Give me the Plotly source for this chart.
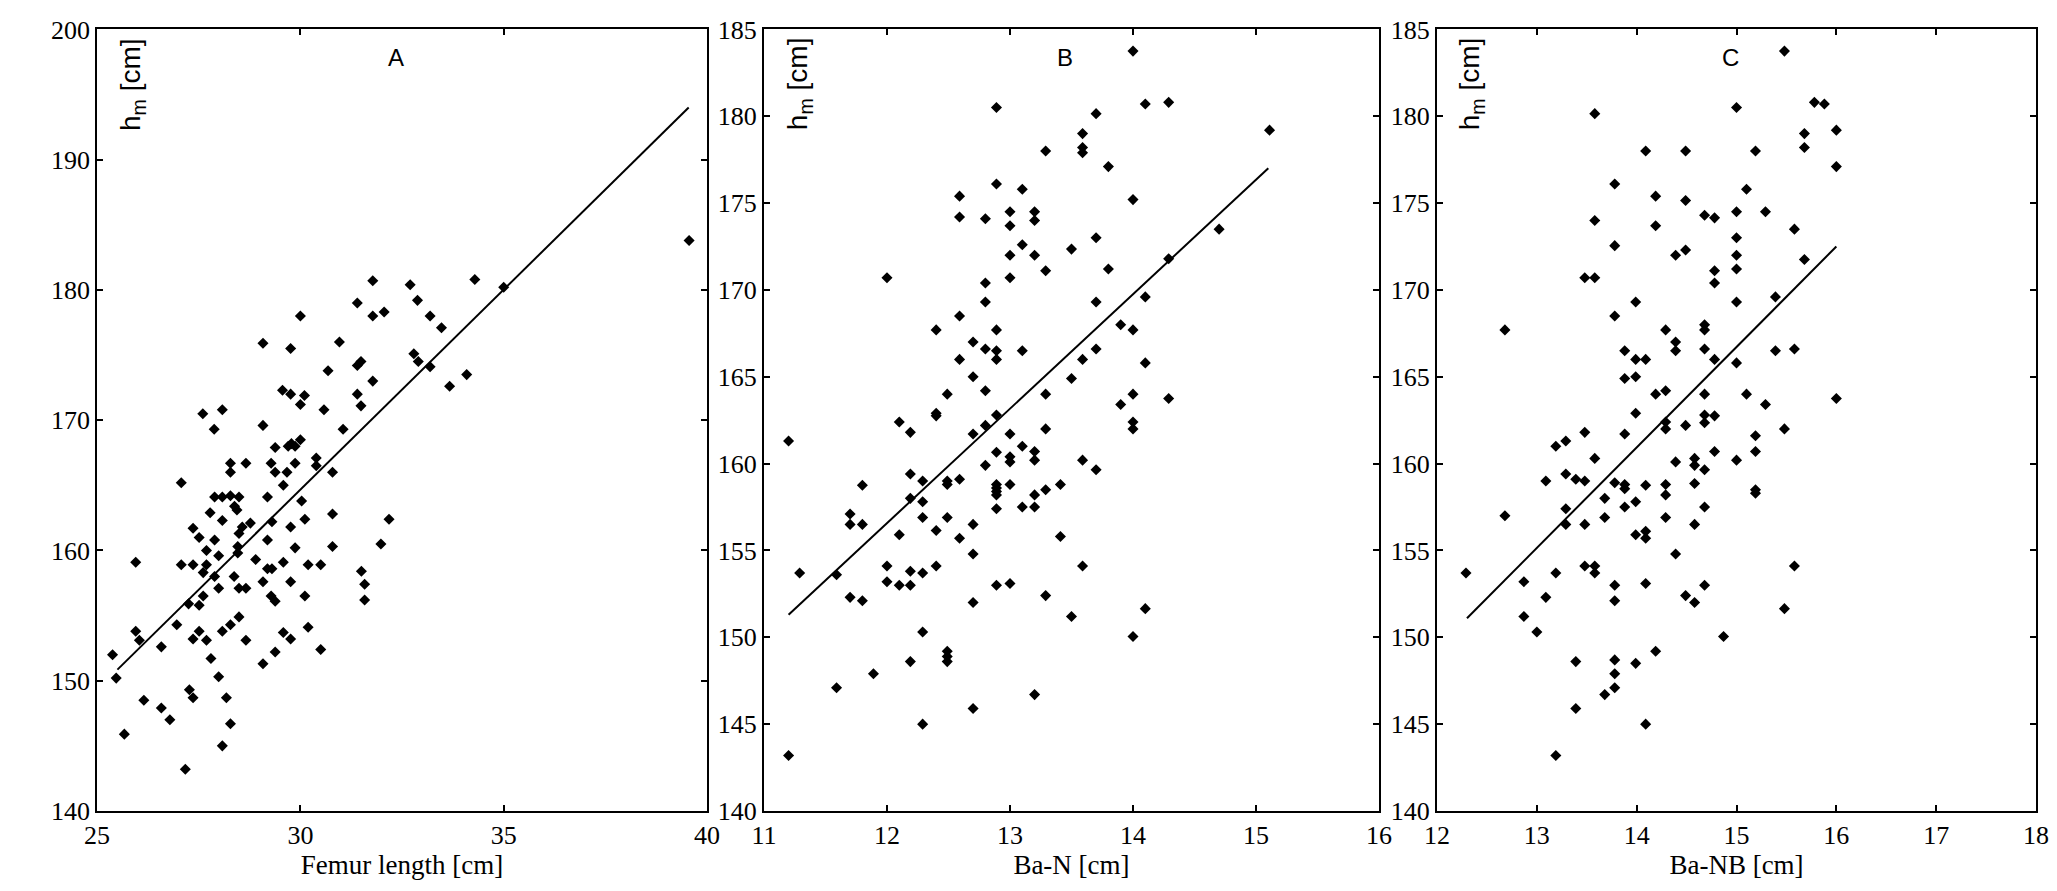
import plotly.graph_objects as go

# --- data (x, h_m) ---
femur_points = [
    (27.60, 170.5), (27.88, 169.3), (28.08, 170.8), (29.08, 175.9), (29.08, 169.6),
    (29.56, 172.3), (29.76, 175.5), (29.76, 172.0), (30.00, 178.0), (30.00, 171.2),
    (30.10, 171.9), (30.00, 168.5), (30.58, 170.8), (30.68, 173.8), (30.96, 176.0),
    (31.05, 169.3), (31.40, 179.0), (31.40, 174.2), (31.49, 174.5), (31.40, 172.0),
    (31.49, 171.1), (31.78, 180.7), (31.78, 178.0), (32.06, 178.3), (31.78, 173.0),
    (32.70, 180.4), (32.88, 179.2), (32.79, 175.1), (32.90, 174.5), (33.19, 178.0),
    (33.47, 177.1), (33.19, 174.1), (33.67, 172.6), (34.09, 173.5), (34.29, 180.8),
    (35.00, 180.2), (39.56, 183.8),
    (29.38, 167.9), (29.70, 168.0), (29.78, 168.2), (29.87, 168.0),
    (28.28, 166.7), (28.28, 166.0), (28.66, 166.7), (29.28, 166.7), (29.38, 166.0),
    (29.67, 166.0), (29.87, 166.7), (30.39, 167.1), (30.39, 166.5), (30.79, 166.0),
    (27.07, 165.2), (29.58, 165.0),
    (27.89, 164.1), (28.08, 164.1), (28.28, 164.2), (28.49, 164.1), (29.19, 164.1),
    (30.03, 163.8), (28.38, 163.4), (28.44, 163.1), (27.78, 162.9), (30.11, 162.4),
    (30.79, 162.8), (32.18, 162.4), (28.08, 162.3), (28.77, 162.1), (28.57, 161.8),
    (28.49, 161.3), (29.30, 162.2), (29.76, 161.8), (27.36, 161.7), (27.51, 161.0),
    (27.89, 160.8), (29.19, 160.8), (27.69, 160.0), (28.46, 160.3), (28.46, 159.8),
    (29.87, 160.2), (30.79, 160.3), (31.98, 160.5),
    (25.95, 159.1), (27.07, 158.9), (27.36, 158.9), (27.69, 158.9), (27.99, 159.6),
    (28.90, 159.3), (29.19, 158.6), (29.30, 158.6), (29.58, 159.1), (30.19, 158.9),
    (30.50, 158.9), (27.61, 158.3), (27.89, 158.0), (28.37, 158.0), (27.99, 157.1),
    (28.49, 157.1), (28.66, 157.1), (29.08, 157.6), (29.76, 157.6), (31.50, 158.4),
    (31.58, 157.4), (31.58, 156.2), (27.61, 156.5), (27.25, 155.9), (27.51, 155.8),
    (29.28, 156.5), (29.38, 156.1), (30.11, 156.5),
    (26.96, 154.3), (25.95, 153.8), (26.04, 153.1), (26.58, 152.6), (27.36, 153.2),
    (27.51, 153.8), (27.69, 153.1), (28.08, 153.8), (28.28, 154.3), (28.49, 154.9),
    (28.66, 153.1), (29.58, 153.7), (29.76, 153.2), (30.19, 154.1), (30.50, 152.4),
    (29.38, 152.2), (29.08, 151.3), (27.80, 151.7),
    (25.38, 152.0), (25.47, 150.2), (27.99, 150.3), (27.27, 149.3), (27.36, 148.7),
    (26.15, 148.5), (28.18, 148.7), (26.58, 147.9), (26.79, 147.0), (28.28, 146.7),
    (25.67, 145.9), (28.08, 145.0), (27.17, 143.2),
]
femur_fit_x = [25.5, 39.55]
femur_fit_y = [150.85, 194.0]

ban_points = [
    (14.00, 183.75), (12.89, 180.5), (14.10, 180.7), (14.29, 180.8), (13.70, 180.15),
    (15.11, 179.2), (13.59, 179.0), (13.59, 178.2), (13.59, 177.9), (13.29, 178.0),
    (13.80, 177.1), (12.89, 176.1), (13.10, 175.8), (12.59, 175.4), (14.00, 175.2),
    (12.59, 174.2), (12.80, 174.1), (13.00, 174.5), (13.20, 174.5), (13.20, 174.0),
    (13.00, 173.7), (14.70, 173.5), (13.70, 173.0), (13.10, 172.6), (13.50, 172.35),
    (13.00, 172.0), (13.20, 172.0), (14.29, 171.8), (13.29, 171.1), (13.80, 171.2),
    (12.00, 170.7), (13.00, 170.7), (12.80, 170.4), (12.80, 169.3), (13.70, 169.3),
    (14.10, 169.6), (12.59, 168.5), (12.40, 167.7), (12.89, 167.7), (13.90, 168.0),
    (14.00, 167.7), (12.70, 167.0), (12.80, 166.6), (12.89, 166.5), (12.89, 166.0),
    (13.10, 166.5), (12.59, 166.0), (13.59, 166.0), (13.70, 166.6), (14.10, 165.8),
    (12.70, 165.0), (13.50, 164.9), (12.80, 164.2), (12.49, 164.0), (13.29, 164.0),
    (14.00, 164.0), (14.29, 163.75), (13.90, 163.4), (12.40, 162.9), (12.40, 162.75),
    (12.10, 162.4), (12.19, 161.8), (12.89, 162.8), (12.80, 162.2), (13.29, 162.0),
    (14.00, 162.4), (14.00, 162.0), (12.70, 161.7), (13.00, 161.7), (11.20, 161.3),
    (13.10, 161.0), (13.20, 160.7), (13.20, 160.2), (12.89, 160.65), (13.00, 160.4),
    (13.00, 160.1), (12.80, 159.9), (13.59, 160.2), (13.70, 159.65), (12.19, 159.4),
    (12.29, 159.0), (11.80, 158.75), (12.49, 159.0), (12.49, 158.8), (12.59, 159.1),
    (12.89, 158.8), (12.89, 158.6), (12.89, 158.4), (12.89, 158.2), (13.00, 158.8),
    (13.41, 158.8), (13.29, 158.5), (13.20, 158.2), (12.19, 158.0), (12.29, 157.8),
    (12.89, 157.4), (13.10, 157.5), (13.20, 157.5), (11.70, 157.1), (11.70, 156.5),
    (11.80, 156.5), (12.29, 156.9), (12.49, 156.9), (12.70, 156.5), (12.40, 156.15),
    (12.10, 155.9), (12.59, 155.7), (13.41, 155.8), (12.70, 154.8), (12.00, 154.1),
    (12.40, 154.1), (13.59, 154.1), (11.29, 153.7), (11.59, 153.6), (12.19, 153.8),
    (12.29, 153.7), (12.00, 153.2), (12.10, 153.0), (12.19, 153.0), (12.89, 153.0),
    (13.00, 153.1), (11.70, 152.3), (11.80, 152.1), (12.70, 152.0), (13.29, 152.4),
    (13.50, 151.2), (14.10, 151.65), (12.29, 150.3), (14.00, 150.05), (12.49, 149.2),
    (12.49, 148.9), (12.49, 148.6), (12.19, 148.6), (11.89, 147.9), (11.59, 147.1),
    (13.20, 146.7), (12.70, 145.9), (12.29, 145.0), (11.20, 143.2),
]
ban_fit_x = [11.2, 15.1]
ban_fit_y = [151.3, 177.0]

banb_points = [
    (15.48, 183.75), (13.58, 180.15), (15.00, 180.5), (15.78, 180.8), (15.88, 180.7),
    (16.00, 179.2), (15.68, 179.0), (15.68, 178.2), (14.09, 178.0), (14.49, 178.0),
    (15.19, 178.0), (16.00, 177.1), (13.78, 176.1), (15.10, 175.8), (14.19, 175.4),
    (14.49, 175.15), (13.58, 174.0), (14.68, 174.3), (14.78, 174.15), (15.00, 174.5),
    (15.29, 174.5), (14.19, 173.7), (15.58, 173.5), (15.00, 173.0), (13.78, 172.55),
    (14.49, 172.3), (14.39, 172.0), (15.00, 172.0), (15.68, 171.75), (14.78, 171.1),
    (15.00, 171.2), (13.48, 170.7), (13.58, 170.7), (14.78, 170.4), (13.99, 169.3),
    (15.00, 169.3), (15.39, 169.6), (13.78, 168.5), (12.68, 167.7), (14.68, 168.0),
    (14.68, 167.7), (14.29, 167.7), (14.39, 167.0), (14.39, 166.5), (13.88, 166.5),
    (14.68, 166.6), (15.39, 166.5), (15.58, 166.6), (13.99, 166.0), (14.09, 166.0),
    (14.78, 166.0), (15.00, 165.8), (13.88, 164.9), (13.99, 165.0), (14.19, 164.0),
    (14.29, 164.2), (14.68, 164.0), (15.10, 164.0), (16.00, 163.75), (15.29, 163.4),
    (13.99, 162.9), (14.68, 162.8), (14.68, 162.35), (14.78, 162.75), (14.29, 162.4),
    (14.29, 162.0), (14.49, 162.2), (15.48, 162.0), (13.48, 161.8), (13.88, 161.7),
    (15.19, 161.6), (13.29, 161.3),
    (15.19, 160.7), (13.19, 161.0), (13.58, 160.3), (14.39, 160.1), (14.58, 160.3),
    (14.58, 159.9), (14.68, 159.65), (14.78, 160.7), (15.00, 160.2), (13.29, 159.4),
    (13.09, 159.0), (13.39, 159.1), (13.48, 159.0), (13.78, 158.9), (13.88, 158.8),
    (13.88, 158.55), (14.09, 158.75), (14.29, 158.8), (14.29, 158.2), (14.58, 158.85),
    (15.19, 158.5), (15.19, 158.3), (13.68, 158.0), (13.99, 157.8), (13.29, 157.4),
    (12.68, 157.0), (13.68, 156.9), (13.88, 157.5), (14.29, 156.9), (14.68, 157.5),
    (13.29, 156.5), (13.48, 156.5), (14.58, 156.5), (13.99, 155.9), (14.09, 156.1),
    (14.09, 155.7), (14.39, 154.8), (13.48, 154.1), (13.58, 154.1), (13.58, 153.7),
    (12.29, 153.7), (13.19, 153.7), (15.58, 154.1), (12.87, 153.2), (13.78, 153.0),
    (14.09, 153.1), (14.68, 153.0), (13.09, 152.3), (13.78, 152.1), (14.49, 152.4),
    (14.58, 152.0), (15.48, 151.65), (12.87, 151.2), (13.00, 150.3), (14.87, 150.05),
    (14.19, 149.2), (13.39, 148.6), (13.78, 148.7), (13.99, 148.5), (13.78, 147.9),
    (13.78, 147.1), (13.68, 146.7), (13.39, 145.9), (14.09, 145.0), (13.19, 143.2),
]
banb_fit_x = [12.3, 16.0]
banb_fit_y = [151.1, 172.5]

panel_labels = ["A", "B", "C"]
x_titles = ["Femur length [cm]", "Ba-N [cm]", "Ba-NB [cm]"]
x_ranges = [[25, 40], [11, 16], [12, 18]]
y_ranges = [[140, 200], [140, 185], [140, 185]]
x_steps = [5, 1, 1]
y_steps = [10, 5, 5]

SERIF = "Times New Roman, Liberation Serif, serif"
SANS = "Arial, Liberation Sans, sans-serif"

x_domains = [[0.0472, 0.3437], [0.3714, 0.6704], [0.6986, 0.9898]]
y_domain = [0.0898, 0.967]

panels = [
    (femur_points, femur_fit_x, femur_fit_y),
    (ban_points, ban_fit_x, ban_fit_y),
    (banb_points, banb_fit_x, banb_fit_y),
]

fig = go.Figure()
layout = {}
annotations = []

for i, (pts, fx, fy) in enumerate(panels):
    n = "" if i == 0 else str(i + 1)
    xs, ys = zip(*pts)
    fig.add_trace(go.Scatter(
        x=list(xs), y=list(ys), mode="markers",
        marker=dict(symbol="diamond", size=8.5, color="black"),
        xaxis="x" + n, yaxis="y" + n, showlegend=False,
    ))
    fig.add_trace(go.Scatter(
        x=fx, y=fy, mode="lines",
        line=dict(color="black", width=2),
        xaxis="x" + n, yaxis="y" + n, showlegend=False,
    ))

    axis_common = dict(
        showline=True, linecolor="black", linewidth=2, mirror="ticks",
        ticks="inside", ticklen=6, tickwidth=1.5, tickcolor="black",
        showgrid=False, zeroline=False, automargin=False,
        tickfont=dict(family=SERIF, size=26, color="black"),
    )
    layout["xaxis" + n] = dict(
        axis_common, domain=x_domains[i], range=x_ranges[i],
        tick0=x_ranges[i][0], dtick=x_steps[i], anchor="y" + n,
        title=dict(text=x_titles[i], font=dict(family=SERIF, size=27, color="black"),
                   standoff=4),
    )
    layout["yaxis" + n] = dict(
        axis_common, domain=y_domain, range=y_ranges[i],
        tick0=y_ranges[i][0], dtick=y_steps[i], anchor="x" + n,
    )

    # panel letter and rotated y label inside each plot
    annotations.append(dict(
        text=panel_labels[i], xref="x%s domain" % n, yref="y%s domain" % n,
        x=0.49, y=0.964, showarrow=False, xanchor="center", yanchor="middle",
        font=dict(family=SANS, size=24, color="black"),
    ))
    annotations.append(dict(
        text="h<sub>m</sub> [cm]", xref="x%s domain" % n, yref="y%s domain" % n,
        x=0.057, y=0.93, showarrow=False, textangle=-90,
        xanchor="center", yanchor="middle",
        font=dict(family=SANS, size=28, color="black"),
    ))

fig.update_layout(
    **layout,
    annotations=annotations,
    width=2057, height=891,
    margin=dict(l=0, r=0, t=0, b=0),
    plot_bgcolor="white", paper_bgcolor="white",
    template="none",
)

fig.write_html("out.html", config={"displayModeBar": False},
               post_script="document.body.style.margin='0';")
